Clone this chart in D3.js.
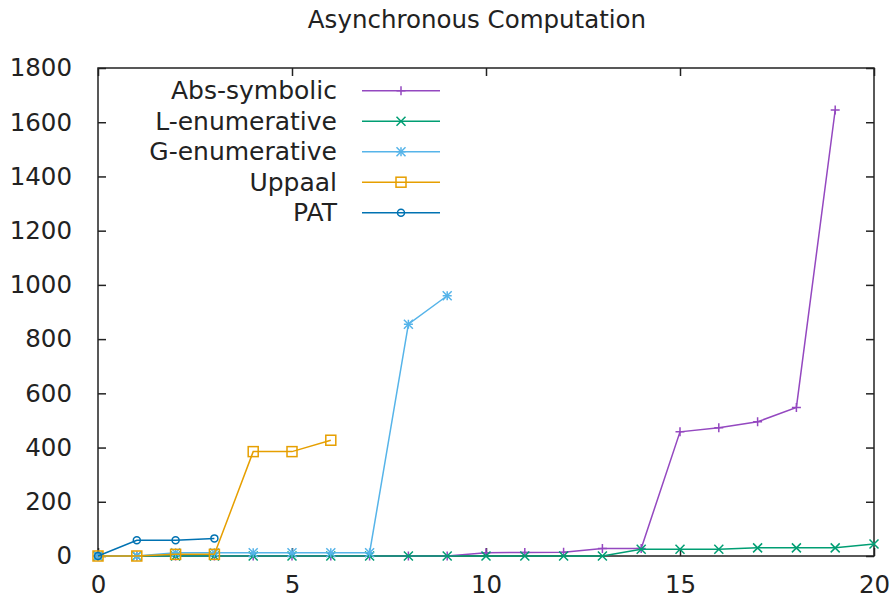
<!DOCTYPE html>
<html>
<head>
<meta charset="utf-8">
<script src="https://cdn.jsdelivr.net/npm/d3@7"></script>
<style>
  body { margin: 0; background: #fff; }
  text { font-family: "DejaVu Sans", sans-serif; fill: #222; }
</style>
</head>
<body>
<script>
// data
var title = "Asynchronous Computation";
var absSymbolic = [0,0,0,0,0,0,0,0,0,0,12,13,14,28,28,458,473,495,548,1645];
var lEnumerative = [0,0,0,0,0,0,0,0,0,0,0,0,0,0,25,25,25,30,30,30,44];
var gEnumerative = [0,0,12,12,12,12,12,12,855,960];
var uppaal = [0,0,6,6,385,385,427];
var pat = [0,58,58,65];
var xTicks = [0,5,10,15,20];
var yTicks = [0,200,400,600,800,1000,1200,1400,1600,1800];

var series = [
  {name: "Abs-symbolic", values: absSymbolic, color: "#9448c0", marker: "plus"},
  {name: "L-enumerative", values: lEnumerative, color: "#009e73", marker: "cross"},
  {name: "G-enumerative", values: gEnumerative, color: "#56b4e9", marker: "star"},
  {name: "Uppaal", values: uppaal, color: "#e69f00", marker: "square"},
  {name: "PAT", values: pat, color: "#0072b2", marker: "circle"}
];

var W = 889, H = 601;
var margin = {left: 98, right: 15, top: 68, bottom: 45};

var svg = d3.select("body").append("svg").attr("width", W).attr("height", H);

var x = d3.scaleLinear().domain([0, 20]).range([margin.left, W - margin.right]);
var y = d3.scaleLinear().domain([0, 1800]).range([H - margin.bottom, margin.top]);

svg.append("text").attr("x", 477).attr("y", 28).attr("text-anchor", "middle")
  .style("font-size", "24.5px").text(title);

// axes, ticks inward and mirrored like gnuplot
var tl = 8;
var xb = d3.axisBottom(x).tickValues(xTicks).tickSize(-tl).tickPadding(tl + 12).tickFormat(d3.format("d"));
var xt = d3.axisTop(x).tickValues(xTicks).tickSize(-tl).tickFormat("");
var yl = d3.axisLeft(y).tickValues(yTicks).tickSize(-tl).tickPadding(tl + 18).tickFormat(d3.format("d"));
var yr = d3.axisRight(y).tickValues(yTicks).tickSize(-tl).tickFormat("");

function styleAxis(g) {
  g.select(".domain").remove();
  g.selectAll(".tick line").attr("stroke", "#222").attr("stroke-width", 1.5);
  g.selectAll(".tick text").style("font-size", "24.5px").style("font-family", "DejaVu Sans").attr("fill", "#222");
}
svg.append("g").attr("transform", "translate(0," + y(0) + ")").call(xb).call(styleAxis);
svg.append("g").attr("transform", "translate(0," + y(1800) + ")").call(xt).call(styleAxis);
svg.append("g").attr("transform", "translate(" + x(0) + ",0)").call(yl).call(styleAxis);
svg.append("g").attr("transform", "translate(" + x(20) + ",0)").call(yr).call(styleAxis);

svg.append("rect").attr("x", x(0)).attr("y", y(1800))
  .attr("width", x(20) - x(0)).attr("height", y(0) - y(1800))
  .attr("fill", "none").attr("stroke", "#222").attr("stroke-width", 1.5);

function drawMarker(g, kind, cx, cy, color) {
  var s = 4.5;
  var p = g.append("g").attr("transform", "translate(" + cx + "," + cy + ")")
    .attr("stroke", color).attr("stroke-width", 1.5).attr("fill", "none");
  if (kind == "plus" || kind == "star") {
    p.append("path").attr("d", "M" + (-s) + ",0H" + s + "M0," + (-s) + "V" + s);
  }
  if (kind == "cross" || kind == "star") {
    p.append("path").attr("d", "M" + (-s) + "," + (-s) + "L" + s + "," + s + "M" + (-s) + "," + s + "L" + s + "," + (-s));
  }
  if (kind == "square") {
    p.append("rect").attr("x", -5).attr("y", -5).attr("width", 10).attr("height", 10);
  }
  if (kind == "circle") {
    p.append("circle").attr("r", 3.5);
  }
}

var line = d3.line().x(function(d, i) { return x(i); }).y(function(d) { return y(d); });

series.forEach(function(s) {
  var g = svg.append("g");
  g.append("path").datum(s.values).attr("d", line)
    .attr("fill", "none").attr("stroke", s.color).attr("stroke-width", 1.5);
  s.values.forEach(function(v, i) { drawMarker(g, s.marker, x(i), y(v), s.color); });
});

// legend
var legend = svg.append("g");
series.forEach(function(s, i) {
  var ly = 90.7 + i * 30.5;
  legend.append("text").attr("x", 337).attr("y", ly).attr("dy", "0.35em")
    .attr("text-anchor", "end").style("font-size", "25px").text(s.name);
  legend.append("line").attr("x1", 362).attr("x2", 440).attr("y1", ly).attr("y2", ly)
    .attr("stroke", s.color).attr("stroke-width", 1.5);
  drawMarker(legend, s.marker, 401, ly, s.color);
});
</script>
</body>
</html>
